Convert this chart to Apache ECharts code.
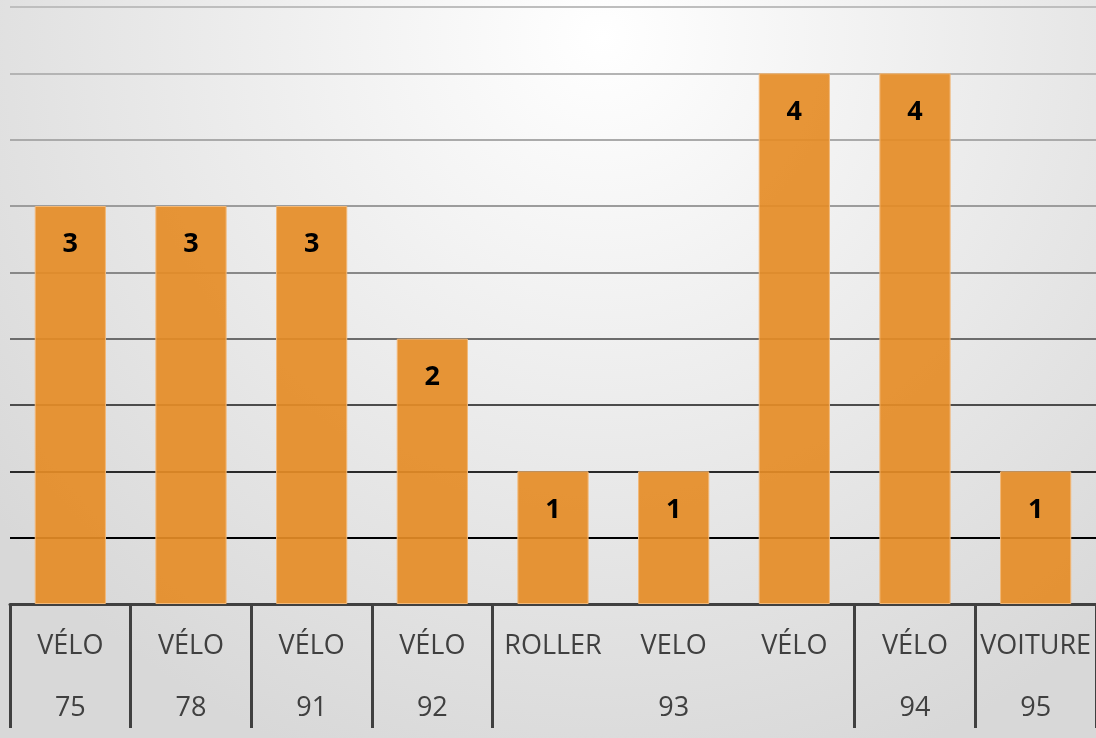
<!DOCTYPE html>
<html>
<head>
<meta charset="utf-8">
<script src="https://cdn.jsdelivr.net/npm/echarts@6/dist/echarts.min.js"></script>
<style>
html,body{margin:0;padding:0;}
#chart{width:1096px;height:738px;}
</style>
</head>
<body>
<div id="chart"></div>
<script>
const categories = ['VÉLO','VÉLO','VÉLO','VÉLO','ROLLER','VELO','VÉLO','VÉLO','VOITURE'];
const groupLabels = ['75','78','91','92','','93','','94','95'];
const groupStarts = [0,1,2,3,4,7,8];
const values = [3,3,3,2,1,1,4,4,1];

const gridColors = ['#000000','#000000','#2a2a2a','#4c4c4c','#6c6c6c','#888888','#9c9c9c','#aaaaaa','#b4b4b4','#bebebe'];

const chart = echarts.init(document.getElementById('chart'));
chart.setOption({
  backgroundColor: {
    type: 'radial', x: 0.55, y: 0.05, r: 1.05,
    colorStops: [{offset: 0, color: '#ffffff'}, {offset: 1, color: '#d8d8d8'}]
  },
  grid: {left: 10, right: 0, top: 7, bottom: 134},
  xAxis: [{
    type: 'category',
    data: categories,
    position: 'bottom',
    axisLine: {show: true, lineStyle: {color: '#404040', width: 3}},
    axisTick: {
      show: true, length: 124,
      interval: function (index) { return groupStarts.indexOf(index) >= 0; },
      lineStyle: {color: '#404040', width: 3}
    },
    axisLabel: {interval: 0, margin: 29, fontFamily: 'Open Sans', fontSize: 27, color: '#404040'},
    splitLine: {show: false}
  }, {
    type: 'category',
    data: groupLabels,
    position: 'bottom',
    axisLine: {show: false},
    axisTick: {show: false},
    axisLabel: {interval: 0, margin: 91, fontFamily: 'Open Sans', fontSize: 27, color: '#404040'},
    splitLine: {show: false}
  }],
  yAxis: {
    type: 'value', min: 0, max: 4.5, interval: 0.5,
    axisLine: {show: false}, axisTick: {show: false}, axisLabel: {show: false},
    splitLine: {show: true, lineStyle: {color: gridColors, width: 1.8}}
  },
  series: [{
    type: 'bar',
    data: values,
    xAxisIndex: 0,
    barCategoryGap: '41%',
    itemStyle: {color: 'rgba(229,140,38,0.92)', borderColor: '#f2b878', borderWidth: 1},
    label: {
      show: true, position: 'insideTop', distance: 25,
      fontFamily: 'Open Sans', fontWeight: 'bold', fontSize: 27, color: '#000'
    },
    z: 2
  }]
});
</script>
</body>
</html>
